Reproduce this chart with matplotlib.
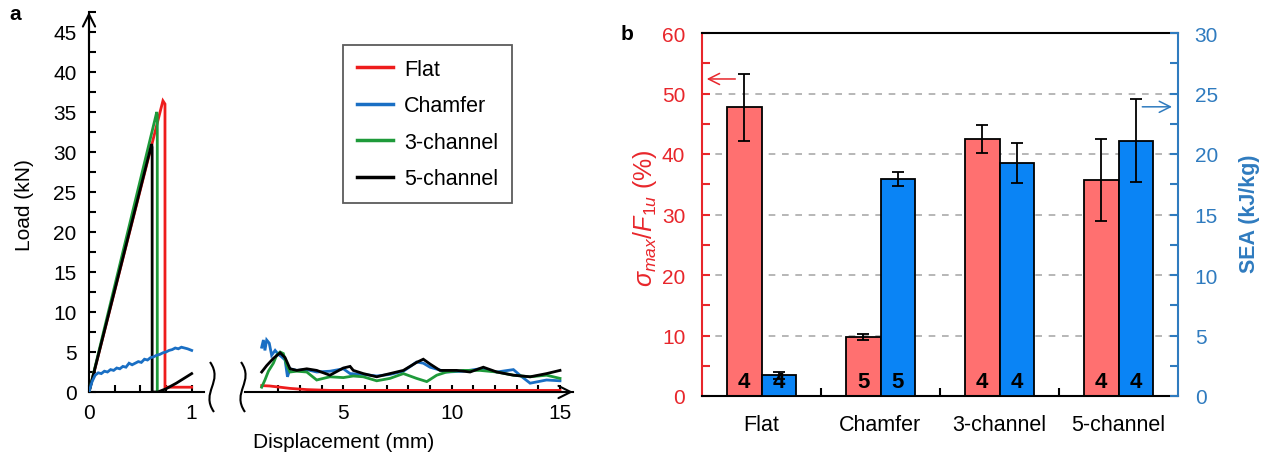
import numpy as np
import matplotlib
matplotlib.use('Agg')
import matplotlib.pyplot as plt
from matplotlib.path import Path
from matplotlib.patches import PathPatch
from matplotlib.ticker import MultipleLocator, FixedLocator

plt.rcParams['font.family'] = ['Liberation Sans', 'DejaVu Sans']
plt.rcParams['mathtext.fontset'] = 'custom'
plt.rcParams['mathtext.it'] = 'Liberation Sans:italic'
plt.rcParams['mathtext.rm'] = 'Liberation Sans'
plt.rcParams['lines.solid_joinstyle'] = 'miter'

# ---- panel a data: load-displacement curves ----
labels_a = ['Flat', 'Chamfer', '3-channel', '5-channel']
colors_a = ['#ee1c1c', '#1a6fc4', '#1e9a3a', '#000000']

# 0-1 mm part
flat_x1 = [0, 0.72, 0.74, 0.74, 1.0]
flat_y1 = [0, 36.4, 36.0, 0.6, 0.6]
chamfer_x1 = [0, 0.03, 0.06, 0.09, 0.12, 0.15, 0.18, 0.21, 0.24, 0.27, 0.30, 0.33,
              0.36, 0.39, 0.42, 0.45, 0.48, 0.51, 0.54, 0.57, 0.60, 0.63, 0.66,
              0.69, 0.72, 0.75, 0.78, 0.81, 0.84, 0.87, 0.90, 0.93, 0.96, 1.0]
chamfer_y1 = [0, 1.3, 2.1, 2.4, 2.3, 2.6, 2.5, 2.8, 2.7, 3.0, 2.9, 3.2,
              3.1, 3.6, 3.4, 3.6, 3.8, 3.7, 4.1, 4.0, 4.3, 4.4, 4.6,
              4.7, 4.9, 5.0, 5.2, 5.3, 5.5, 5.4, 5.6, 5.5, 5.4, 5.2]
ch3_x1 = [0, 0.66, 0.665, 0.665]
ch3_y1 = [0, 35.0, 34.6, 0]
ch5_x1 = [0, 0.61, 0.615, 0.615, 0.67, 0.75, 0.85, 0.95, 1.0]
ch5_y1 = [0, 31.0, 30.6, 0, 0, 0.4, 1.1, 1.9, 2.3]

# 1.2-15 mm part
flat_x2 = [1.23, 1.6, 2.08, 2.54, 3.31, 4.38, 15.0]
flat_y2 = [0.8, 0.75, 0.6, 0.45, 0.3, 0.2, 0.2]
chamfer_x2 = [1.23, 1.31, 1.38, 1.46, 1.58, 1.69, 1.85, 2.0, 2.15, 2.31, 2.42, 2.54,
              2.85, 3.31, 3.77, 4.38, 5.0, 5.31, 5.92, 6.54, 7.15, 7.77, 8.15,
              8.38, 8.69, 9.0, 9.77, 10.54, 11.31, 12.08, 12.85, 13.15, 13.62,
              14.38, 15.0]
chamfer_y2 = [5.6, 6.5, 5.2, 6.5, 6.1, 4.6, 5.2, 4.7, 4.4, 4.0, 1.9, 2.9,
              2.7, 2.8, 2.5, 2.6, 2.9, 2.3, 2.2, 2.0, 2.2, 2.6, 3.3,
              3.75, 3.6, 3.1, 2.5, 2.6, 2.9, 2.5, 2.8, 2.1, 1.1,
              1.5, 1.4]
ch3_x2 = [1.23, 1.38, 1.54, 1.77, 1.92, 2.08, 2.23, 2.38, 2.54, 2.85, 3.31, 3.77,
          4.38, 5.0, 5.46, 5.92, 6.54, 7.15, 7.77, 8.38, 8.85, 9.31, 9.77, 10.54,
          11.31, 12.08, 12.85, 13.62, 14.38, 15.0]
ch3_y2 = [0.6, 1.5, 2.6, 3.6, 4.6, 5.0, 4.8, 3.4, 2.5, 2.6, 2.5, 1.5,
          1.9, 1.8, 2.0, 1.9, 1.4, 1.7, 2.3, 1.7, 1.3, 2.1, 2.5, 2.7,
          2.7, 2.5, 2.1, 1.9, 2.1, 1.7]
ch5_x2 = [1.23, 1.46, 1.77, 2.08, 2.31, 2.54, 2.85, 3.31, 3.77, 4.38, 5.0, 5.31,
          5.46, 5.92, 6.54, 7.15, 7.77, 8.38, 8.69, 9.0, 9.46, 10.23, 10.85,
          11.46, 12.08, 12.85, 13.62, 14.38, 15.0]
ch5_y2 = [2.5, 3.3, 4.2, 4.9, 4.3, 2.9, 2.7, 2.9, 2.7, 2.1, 3.0, 3.2,
          2.7, 2.3, 1.9, 2.3, 2.7, 3.7, 4.1, 3.5, 2.7, 2.7, 2.5,
          3.1, 2.5, 2.1, 1.9, 2.3, 2.7]

# ---- panel b data ----
categories = ['Flat', 'Chamfer', '3-channel', '5-channel']
ratio_vals = [47.7, 9.7, 42.5, 35.7]     # sigma_max / F1u (%)
ratio_err = [5.55, 0.5, 2.35, 6.85]
sea_vals = [1.7, 17.96, 19.26, 21.1]     # SEA (kJ/kg)
sea_err = [0.3, 0.57, 1.65, 3.45]
ratio_n = [4, 5, 4, 4]
sea_n = [4, 5, 4, 4]

RED = '#e8262b'
BLUE = '#2f7bbf'

W, H = 1263, 460
fig = plt.figure(figsize=(W / 100, H / 100), dpi=100)


def box(l, t, r, b):
    return [l / W, 1 - b / H, (r - l) / W, (b - t) / H]


# ================= panel a =================
ax1 = fig.add_axes(box(89, 13, 204, 393))
ax2 = fig.add_axes(box(245, 13, 573, 393))

lw = 2.0
ax1.plot(chamfer_x1, chamfer_y1, color=colors_a[1], lw=lw, zorder=5)
ax1.plot(flat_x1, flat_y1, color=colors_a[0], lw=lw, zorder=2)
ax1.plot(ch3_x1, ch3_y1, color=colors_a[2], lw=lw, zorder=3)
ax1.plot(ch5_x1, ch5_y1, color=colors_a[3], lw=lw, zorder=4)

h_flat, = ax2.plot(flat_x2, flat_y2, color=colors_a[0], lw=lw, zorder=2)
h_cham, = ax2.plot(chamfer_x2, chamfer_y2, color=colors_a[1], lw=lw, zorder=3)
h_ch3, = ax2.plot(ch3_x2, ch3_y2, color=colors_a[2], lw=lw, zorder=4)
h_ch5, = ax2.plot(ch5_x2, ch5_y2, color=colors_a[3], lw=lw, zorder=5)

for ax in (ax1, ax2):
    ax.set_ylim(0, 47.5)
    ax.spines['top'].set_visible(False)
    ax.spines['right'].set_visible(False)
    for s in ax.spines.values():
        s.set_linewidth(1.5)
    ax.patch.set_alpha(0)
ax1.set_xlim(0, 1.12)
ax2.set_xlim(0.46, 15.6)
ax2.spines['left'].set_visible(False)
ax2.set_yticks([])

ax1.yaxis.set_minor_locator(MultipleLocator(2.5))
ax1.set_yticks(np.arange(0, 46, 5))
ax1.xaxis.set_major_locator(FixedLocator([0, 1]))
ax1.xaxis.set_minor_locator(FixedLocator([0.25, 0.5, 0.75]))
ax2.xaxis.set_major_locator(FixedLocator([5, 10, 15]))
ax2.xaxis.set_minor_locator(FixedLocator([2, 3, 4, 6, 7, 8, 9, 11, 12, 13, 14]))
for ax in (ax1, ax2):
    ax.tick_params(which='both', direction='in', length=5, width=1.5)
    ax.tick_params(axis='x', labelsize=15, pad=8)
ax1.tick_params(axis='y', labelsize=15, pad=9)

# axis arrows
ax1.annotate('', xy=(0, 1.0), xytext=(0, 0.9), xycoords='axes fraction',
             arrowprops=dict(arrowstyle='->', lw=1.5, mutation_scale=22, shrinkA=0, shrinkB=0))
ax2.annotate('', xy=(1.0, 0), xytext=(0.9, 0), xycoords='axes fraction',
             arrowprops=dict(arrowstyle='->', lw=1.5, mutation_scale=22, shrinkA=0, shrinkB=0))

# axis-break marks
for bx in (212, 243):
    t, b = 363, 413
    pts = [(bx - 2, t), (bx + 12, t + 20), (bx - 12, b - 20), (bx + 2, b)]
    pts = [(x / W, 1 - y / H) for x, y in pts]
    path = Path(pts, [Path.MOVETO, Path.CURVE4, Path.CURVE4, Path.CURVE4])
    fig.add_artist(PathPatch(path, fill=False, lw=1.5, color='black', transform=fig.transFigure))

fig.legend([h_flat, h_cham, h_ch3, h_ch5], labels_a, loc='upper left',
           bbox_to_anchor=(343 / W, 1 - 46 / H), fontsize=15.5, frameon=True,
           fancybox=False, edgecolor='#333333', handlelength=1.65,
           handletextpad=0.55, labelspacing=0.72, borderpad=0.65, borderaxespad=0)
fig.legends[0].get_frame().set_linewidth(1.3)
for line in fig.legends[0].get_lines():
    line.set_linewidth(2.5)

fig.text(25 / W, 1 - 205 / H, 'Load (kN)', rotation=90, ha='center', va='center', fontsize=15)
fig.text(344 / W, 1 - 443 / H, 'Displacement (mm)', ha='center', va='center', fontsize=15)
fig.text(15 / W, 1 - 15 / H, 'a', ha='center', va='center', fontsize=15, fontweight='bold')

# ================= panel b =================
axb = fig.add_axes(box(702, 34, 1178, 397))
axb2 = axb.twinx()

x = np.arange(len(categories))
w = 0.29
axb.set_axisbelow(True)
axb.bar(x - w / 2, ratio_vals, w, color='#ff7070', edgecolor='black', lw=1.3,
        yerr=ratio_err, capsize=4.5, error_kw=dict(lw=1.3, capthick=1.3, ecolor='black'), zorder=2)
axb2.bar(x + w / 2, sea_vals, w, color='#0a84f5', edgecolor='black', lw=1.3,
         yerr=sea_err, capsize=4.5, error_kw=dict(lw=1.3, capthick=1.3, ecolor='black'), zorder=2)

for i in range(len(categories)):
    axb.text(x[i] - w / 2, 2.4, str(ratio_n[i]), ha='center', va='center',
             fontsize=16, fontweight='bold', zorder=5)
    axb2.text(x[i] + w / 2, 1.2, str(sea_n[i]), ha='center', va='center',
              fontsize=16, fontweight='bold', zorder=5)

axb.set_xlim(-0.5, 3.5)
axb.set_ylim(0, 60)
axb2.set_ylim(0, 30)
axb.set_xticks(x)
axb.set_xticklabels(categories)
axb.xaxis.set_minor_locator(FixedLocator([0.5, 1.5, 2.5]))
axb.tick_params(axis='x', which='major', length=0, labelsize=15.5, pad=13)
axb.tick_params(axis='x', which='minor', direction='in', length=6, width=1.5)

axb.yaxis.set_major_locator(MultipleLocator(10))
axb.yaxis.set_minor_locator(MultipleLocator(5))
axb2.yaxis.set_major_locator(MultipleLocator(5))
axb2.yaxis.set_minor_locator(MultipleLocator(2.5))
axb.tick_params(axis='y', which='both', direction='in', length=6, width=1.5,
                colors=RED, labelsize=15, pad=12)
axb2.tick_params(axis='y', which='both', direction='in', length=6, width=1.5,
                 colors=BLUE, labelsize=15, pad=12)

axb.yaxis.grid(True, linestyle=(0, (4, 4)), color='#aaaaaa', lw=1.2)

for s in axb.spines.values():
    s.set_linewidth(1.5)
for s in axb2.spines.values():
    s.set_linewidth(1.5)
axb.spines['left'].set_color(RED)
axb.spines['right'].set_visible(False)
axb2.spines['left'].set_visible(False)
axb2.spines['top'].set_visible(False)
axb2.spines['bottom'].set_visible(False)
axb2.spines['right'].set_color(BLUE)

axb.annotate('', xy=(-0.46, 52.4), xytext=(-0.22, 52.4),
             arrowprops=dict(arrowstyle='->', color=RED, lw=1.1, mutation_scale=20, shrinkA=0, shrinkB=0))
axb2.annotate('', xy=(3.45, 23.9), xytext=(3.2, 23.9),
              arrowprops=dict(arrowstyle='->', color=BLUE, lw=1.1, mutation_scale=20, shrinkA=0, shrinkB=0))

fig.text(645 / W, 1 - 218 / H, r'$\sigma_{max}/F_{1u}$ (%)', rotation=90, ha='center',
         va='center', fontsize=18, color=RED)
fig.text(1250 / W, 1 - 214 / H, 'SEA (kJ/kg)', rotation=90, ha='center', va='center',
         fontsize=15.5, color=BLUE, fontweight='bold')
fig.text(627 / W, 1 - 35 / H, 'b', ha='center', va='center', fontsize=15, fontweight='bold')

fig.savefig('out.png', dpi=100)
